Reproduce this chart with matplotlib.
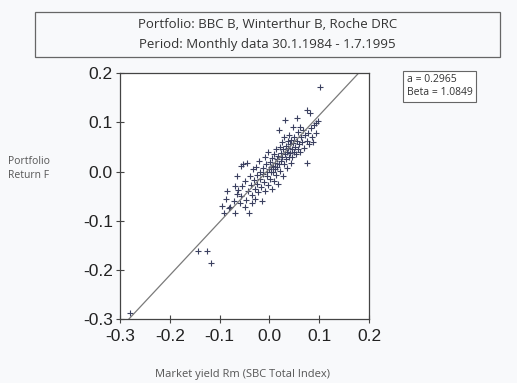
import matplotlib.pyplot as plt
from matplotlib.patches import Rectangle

# monthly returns (market, portfolio)
rm = [-0.280, -0.143, -0.125, -0.117, -0.095, -0.088, -0.082, -0.079, -0.072, -0.069,
      -0.066, -0.063, -0.060, -0.058, -0.055, -0.053, -0.050, -0.048, -0.045, -0.044,
      -0.041, -0.040, -0.038, -0.036, -0.034, -0.032, -0.030, -0.029, -0.027, -0.025,
      -0.024, -0.022, -0.020, -0.019, -0.018, -0.016, -0.014, -0.013, -0.012, -0.010,
      -0.009, -0.008, -0.006, -0.005, -0.004, -0.003, -0.002, 0.000, 0.001, 0.002,
      0.003, 0.004, 0.005, 0.006, 0.007, 0.008, 0.009, 0.010, 0.011, 0.012,
      0.013, 0.014, 0.015, 0.016, 0.017, 0.018, 0.019, 0.020, 0.021, 0.022,
      0.023, 0.024, 0.025, 0.026, 0.027, 0.028, 0.029, 0.030, 0.031, 0.032,
      0.033, 0.034, 0.035, 0.036, 0.037, 0.038, 0.039, 0.040, 0.041, 0.042,
      0.043, 0.044, 0.045, 0.046, 0.047, 0.048, 0.049, 0.050, 0.052, 0.053,
      0.055, 0.056, 0.057, 0.058, 0.060, 0.061, 0.062, 0.064, 0.066, 0.068,
      0.070, 0.072, 0.075, 0.075, 0.076, 0.078, 0.080, 0.081, 0.083, 0.085,
      0.088, 0.090, 0.094, 0.094, 0.102, 0.097, -0.070, -0.065, -0.058, -0.085,
      -0.092, -0.050, -0.035]
rp = [-0.288, -0.162, -0.162, -0.186, -0.070, -0.055, -0.075, -0.072, -0.060, -0.085,
      -0.045, -0.038, -0.065, -0.050, -0.030, 0.015, -0.020, -0.058, 0.017, -0.040,
      -0.085, -0.010, -0.028, -0.048, 0.005, -0.018, -0.035, -0.055, 0.010, -0.008,
      -0.025, -0.042, 0.022, 0.000, -0.015, -0.032, -0.060, 0.008, -0.005, -0.022,
      0.030, -0.040, 0.015, -0.010, 0.000, -0.028, 0.040, 0.005, -0.015, 0.020,
      -0.002, 0.010, -0.035, 0.028, 0.000, 0.012, -0.020, 0.035, 0.005, 0.018,
      -0.008, 0.045, 0.025, 0.010, -0.025, 0.032, 0.084, 0.015, 0.050, 0.002,
      0.038, 0.022, 0.060, 0.030, -0.010, 0.045, 0.015, 0.070, 0.104, 0.035,
      0.052, 0.025, 0.040, 0.008, 0.062, 0.048, 0.030, 0.075, 0.055, 0.038,
      0.018, 0.065, 0.045, 0.030, 0.090, 0.058, 0.040, 0.070, 0.050, 0.035,
      0.108, 0.062, 0.045, 0.080, 0.055, 0.090, 0.040, 0.070, 0.060, 0.085,
      0.048, 0.075, 0.125, 0.017, 0.062, 0.078, 0.055, 0.119, 0.088, 0.070,
      0.060, 0.095, 0.078, 0.098, 0.172, 0.102, -0.030, -0.010, 0.012, -0.040,
      -0.085, -0.072, -0.065]

alpha_line = 0.006   # where the drawn line crosses x = 0
beta = 1.0849
ticks = [-0.3, -0.2, -0.1, 0.0, 0.1, 0.2]

fig = plt.figure(figsize=(5.17, 3.83), dpi=100)
fig.patch.set_facecolor('#f8f9fb')
ax = fig.add_axes([0.232, 0.167, 0.482, 0.642])
ax.set_facecolor('white')

ax.scatter(rm, rp, marker='+', s=14, linewidths=0.8, color='#3b4060')
xl = [-0.3, 0.2]
ax.plot(xl, [alpha_line + beta * v for v in xl], color='#7a7a7a', lw=0.9)

ax.set_xlim(-0.3, 0.2)
ax.set_ylim(-0.3, 0.2)
ax.set_xticks(ticks)
ax.set_yticks(ticks)
ax.set_xticklabels(['%.1f' % t for t in ticks], family='Liberation Sans', fontsize=12.5)
ax.set_yticklabels(['%.1f' % t for t in ticks], family='Liberation Sans', fontsize=12.5)
ax.tick_params(direction='inout', length=6, width=0.8, color='#444444', labelcolor='#222222')
ax.tick_params(axis='x', pad=4)
ax.tick_params(axis='y', pad=2)
for s in ax.spines.values():
    s.set_color('#444444')
    s.set_linewidth(0.9)

# title box
fig.patches.append(Rectangle((0.068, 0.85), 0.899, 0.118, transform=fig.transFigure,
                             fill=False, edgecolor='#666666', lw=0.9))
fig.text(0.518, 0.935, 'Portfolio: BBC B, Winterthur B, Roche DRC', ha='center', va='center',
         family='Open Sans', fontsize=9.5, color='#333333')
fig.text(0.518, 0.885, 'Period: Monthly data 30.1.1984 - 1.7.1995', ha='center', va='center',
         family='Open Sans', fontsize=9.5, color='#333333')

fig.text(0.016, 0.56, 'Portfolio\nReturn F', ha='left', va='center', family='Open Sans',
         fontsize=7.5, color='#555555', linespacing=1.3)
fig.text(0.47, 0.022, 'Market yield Rm (SBC Total Index)', ha='center', va='center',
         family='Open Sans', fontsize=8, color='#555555')

fig.text(0.787, 0.775, 'a = 0.2965\nBeta = 1.0849', ha='left', va='center', family='Open Sans',
         fontsize=7.5, color='#333333', linespacing=1.2,
         bbox=dict(boxstyle='square,pad=0.35', facecolor='white', edgecolor='#666666', lw=0.8))

fig.savefig('out.png', dpi=100, facecolor=fig.get_facecolor())
